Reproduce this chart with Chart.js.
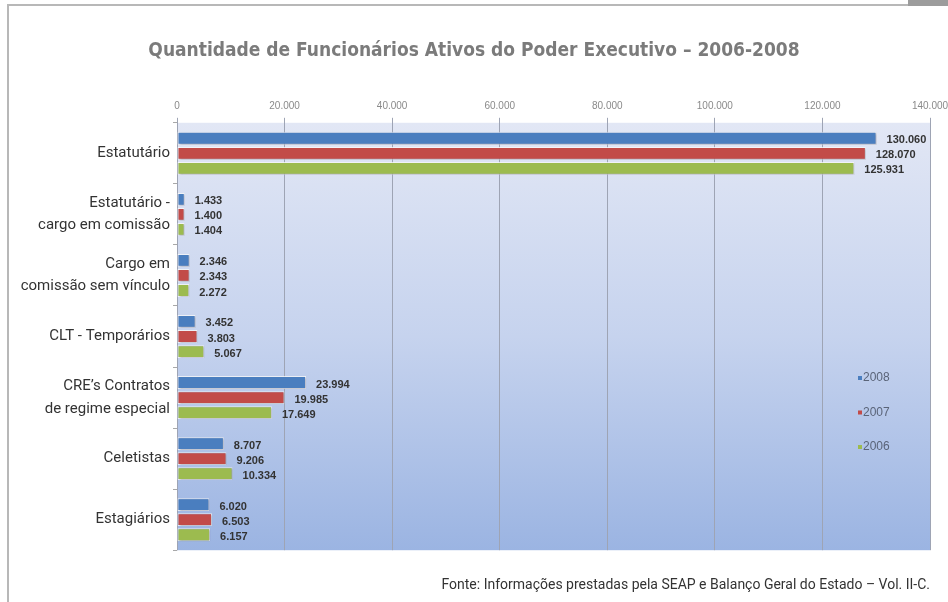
<!DOCTYPE html>
<html>
<head>
<meta charset="utf-8">
<script src="https://cdn.jsdelivr.net/npm/chart.js@4.4.1/dist/chart.umd.min.js"></script>
<style>
  html, body { margin: 0; padding: 0; background: #fff; }
  #wrap { position: relative; width: 948px; height: 602px; overflow: hidden; }
  #frameTop { position: absolute; left: 7px; top: 4px; width: 941px; height: 2px; background: #b8b8b8; }
  #frameLeft { position: absolute; left: 7px; top: 4px; width: 2px; height: 598px; background: #b8b8b8; }
  #tab { position: absolute; left: 908px; top: 0; width: 40px; height: 6px; background: #9c9c9c; }
  canvas { position: absolute; left: 0; top: 0; }
</style>
</head>
<body>
<div id="wrap">
  <div id="frameTop"></div>
  <div id="frameLeft"></div>
  <div id="tab"></div>
  <canvas id="chart" width="948" height="602"></canvas>
</div>
<script>
// Categories (top to bottom)
const categories = [
    "Estatutário",
    ["Estatutário -", "cargo em comissão"],
    ["Cargo em", "comissão sem vínculo"],
    "CLT - Temporários",
    ["CRE’s Contratos", "de regime especial"],
    "Celetistas",
    "Estagiários"
];

// Series values
const values2008 = [130060, 1433, 2346, 3452, 23994, 8707, 6020];
const values2007 = [128070, 1400, 2343, 3803, 19985, 9206, 6503];
const values2006 = [125931, 1404, 2272, 5067, 17649, 10334, 6157];

const seriesNames = ["2008", "2007", "2006"];

// Axis
const axisMax = 140000;
const axisStep = 20000;

function fmt(n) {
    return n.toString().replace(/\B(?=(\d{3})+(?!\d))/g, ".");
}

// Gradient background behind the bars
const plotBackground = {
    id: "plotBackground",
    beforeDraw(chart) {
        const { ctx, chartArea: a } = chart;
        const g = ctx.createLinearGradient(0, a.top, 0, a.bottom);
        g.addColorStop(0, "#e2e7f5");
        g.addColorStop(0.5, "#c6d3ee");
        g.addColorStop(1, "#9bb4e2");
        ctx.save();
        ctx.fillStyle = g;
        ctx.fillRect(a.left, a.top, a.right - a.left, a.bottom - a.top);
        ctx.restore();
    }
};

// Soft shadow under bars
const barShadow = {
    id: "barShadow",
    beforeDatasetsDraw(chart) {
        const ctx = chart.ctx;
        ctx.save();
        ctx.shadowColor = "rgba(60,60,80,0.35)";
        ctx.shadowBlur = 2;
        ctx.shadowOffsetX = 1;
        ctx.shadowOffsetY = 1;
    },
    afterDatasetsDraw(chart) {
        chart.ctx.restore();
    }
};

// Value labels at bar ends
const valueLabels = {
    id: "valueLabels",
    afterDatasetsDraw(chart) {
        const ctx = chart.ctx;
        ctx.save();
        ctx.font = "bold 11px 'Liberation Sans', Arial, sans-serif";
        ctx.fillStyle = "#333";
        ctx.textBaseline = "middle";
        ctx.textAlign = "left";
        chart.data.datasets.forEach((ds, i) => {
            chart.getDatasetMeta(i).data.forEach((bar, j) => {
                ctx.fillText(fmt(ds.data[j]), bar.x + 10, bar.y + 2);
            });
        });
        ctx.restore();
    }
};

// Legend inside the plot, on the right
const sideLegend = {
    id: "sideLegend",
    afterDraw(chart) {
        const ctx = chart.ctx;
        const a = chart.chartArea;
        ctx.save();
        ctx.font = "12px 'Liberation Sans', Arial, sans-serif";
        ctx.textBaseline = "middle";
        chart.data.datasets.forEach((ds, i) => {
            const y = 378 + i * 34.5;
            const x = a.right - 72;
            ctx.fillStyle = ds.backgroundColor;
            ctx.fillRect(x, y - 2, 4, 4);
            ctx.fillStyle = "#5a6478";
            ctx.fillText(seriesNames[i], x + 5, y);
        });
        ctx.restore();
    }
};

new Chart(document.getElementById("chart"), {
    type: "bar",
    data: {
        labels: categories,
        datasets: [
            { label: seriesNames[0], data: values2008, backgroundColor: "#4a7ebf" },
            { label: seriesNames[1], data: values2007, backgroundColor: "#c24b48" },
            { label: seriesNames[2], data: values2006, backgroundColor: "#9cbb4f" }
        ]
    },
    options: {
        indexAxis: "y",
        responsive: false,
        animation: false,
        events: [],
        categoryPercentage: 0.74,
        barPercentage: 0.85,
        datasets: {
            bar: {
                borderColor: "rgba(255,255,255,0.8)",
                borderWidth: 1,
                borderSkipped: false
            }
        },
        layout: { padding: { left: 18, right: 18, top: 0, bottom: 0 } },
        plugins: {
            legend: { display: false },
            tooltip: { enabled: false },
            title: {
                display: true,
                text: "Quantidade de Funcionários Ativos do Poder Executivo – 2006-2008",
                color: "#7b7b7b",
                font: { family: "'DejaVu Sans Condensed', 'DejaVu Sans', sans-serif", size: 19, weight: "bold" },
                padding: { top: 40, bottom: 30 }
            },
            subtitle: {
                display: true,
                position: "bottom",
                align: "end",
                text: "Fonte: Informações prestadas pela SEAP e Balanço Geral do Estado – Vol. II-C.",
                color: "#333",
                font: { family: "Roboto, 'Open Sans', sans-serif", size: 14 },
                padding: { top: 27, bottom: 8 }
            }
        },
        scales: {
            x: {
                position: "top",
                min: 0,
                max: axisMax,
                ticks: {
                    stepSize: axisStep,
                    color: "#8a8a8a",
                    font: { family: "'Liberation Sans', Arial, sans-serif", size: 10 },
                    padding: 6,
                    callback: v => fmt(v)
                },
                grid: { color: "#9ea4b4", lineWidth: 1, tickLength: 5, drawTicks: true },
                border: { display: false },
                afterFit(scale) {
                    scale.height = 30;
                    scale.paddingLeft = 0;
                    scale.paddingRight = 0;
                }
            },
            y: {
                ticks: {
                    color: "#333",
                    font: { family: "Roboto, 'Open Sans', sans-serif", size: 15, lineHeight: 1.5 },
                    padding: 3
                },
                grid: { drawOnChartArea: false, color: "#a8a8a8", tickLength: 4 },
                border: { display: false },
                afterFit(scale) {
                    scale.width = 159;
                }
            }
        }
    },
    plugins: [plotBackground, barShadow, valueLabels, sideLegend]
});
</script>
</body>
</html>
